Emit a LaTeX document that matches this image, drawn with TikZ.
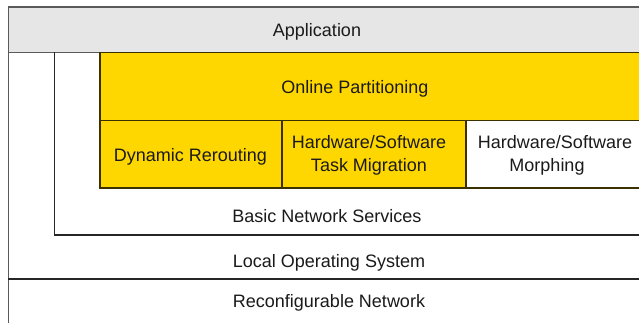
\documentclass[tikz,border=0pt]{standalone}
\usepackage{fontspec}
\setmainfont{Liberation Sans}
\definecolor{appgray}{HTML}{E6E6E6}
\definecolor{gold}{HTML}{FFD700}
\definecolor{goldedge}{HTML}{3A3000}
\definecolor{edgegray}{HTML}{5A5A5A}
\definecolor{txt}{HTML}{1A1A1A}
\begin{document}
\begin{tikzpicture}[x=1pt,y=-1pt,
  layer/.style={draw=edgegray,line width=1.3pt},
  svc/.style={draw=black!85,line width=1.3pt},
  goldbox/.style={draw=goldedge,fill=gold,line width=1.3pt},
  whitebox/.style={draw=goldedge,fill=white,line width=1.3pt},
  lbl/.style={font=\fontsize{18}{23}\selectfont,text=txt,inner sep=0pt,align=center}]
\useasboundingbox (0,0) rectangle (639,322);
\clip (0,0) rectangle (639,322);
\fill[white] (0,0) rectangle (639,322);
% application layer
\draw[layer,fill=appgray] (8.3,7) rectangle (660,52.3);
\coordinate (osTop) at (8.3,52.3);
\coordinate (osBot) at (8.3,340);
\draw[layer] (osTop) -- (osBot);
% basic network services frame
\coordinate (bnsA) at (54.3,52.3);
\coordinate (bnsB) at (54.3,235);
\coordinate (bnsC) at (660,235);
\draw[svc] (bnsA) -- (bnsB) -- (bnsC);
% local OS / reconfigurable network separator
\coordinate (losL) at (8.3,279);
\coordinate (losR) at (660,279);
\draw[svc] (losL) -- (losR);
% online partitioning
\draw[goldbox] (100,52.3) rectangle (660,120.5);
\draw[goldbox] (100,120.5) rectangle (282,188);
\draw[goldbox] (282,120.5) rectangle (466,188);
\draw[whitebox] (466,120.5) rectangle (660,188);
% labels
\node[lbl] (app) at (317,32) {Application};
\node[lbl] (olp) at (355,89) {Online Partitioning};
\node[lbl] (dyn) at (190.5,157) {Dynamic Rerouting};
\node[lbl] (mig) at (369,155.5) {Hardware/Software\\Task Migration};
\node[lbl] (mor) at (555,155.5) {Hardware/Software\\\hspace*{-16pt}Morphing};
\node[lbl] (bns) at (327,216) {Basic Network Services};
\node[lbl] (los) at (329,263) {Local Operating System};
\node[lbl] (rcn) at (329,303) {Reconfigurable Network};
\end{tikzpicture}
\end{document}
